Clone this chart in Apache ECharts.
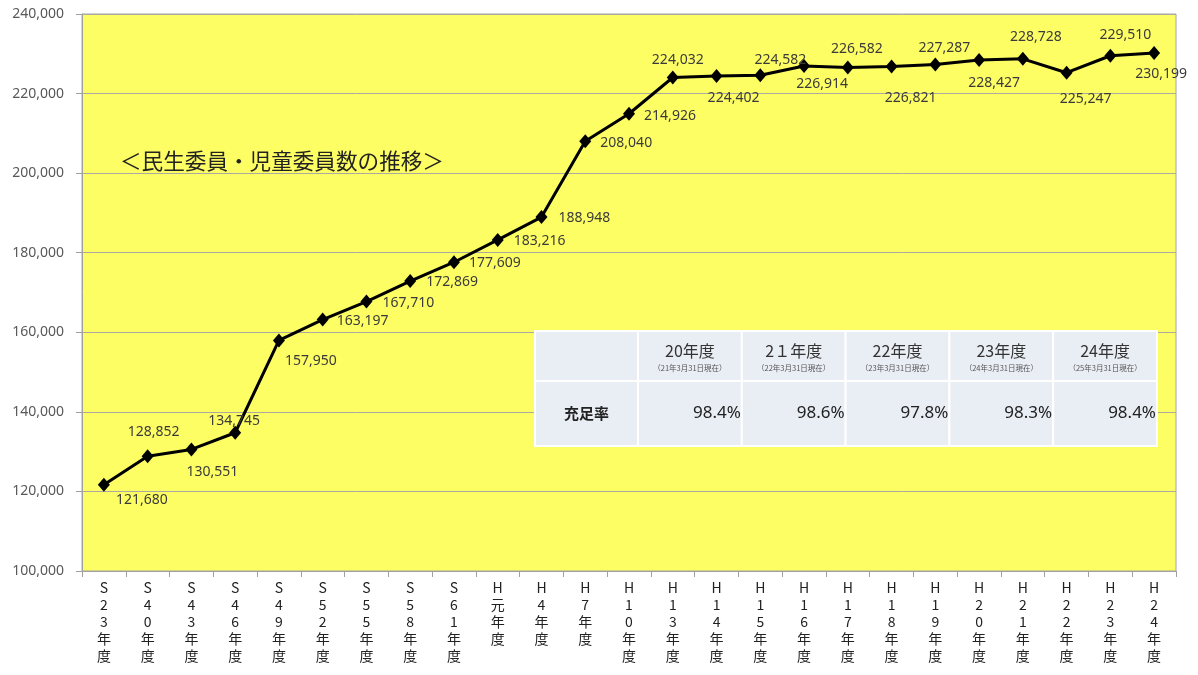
<!DOCTYPE html>
<html><head><meta charset="utf-8">
<script src="https://cdn.jsdelivr.net/npm/echarts@6/dist/echarts.min.js"></script>
<style>html,body{margin:0;padding:0;background:#fff}#c{width:1198px;height:675px}</style>
</head><body><div id="c"></div>
<script>
// ---- data ----
const categories = ['S23年度','S40年度','S43年度','S46年度','S49年度','S52年度','S55年度','S58年度','S61年度','H元年度','H4年度','H7年度','H10年度','H13年度','H14年度','H15年度','H16年度','H17年度','H18年度','H19年度','H20年度','H21年度','H22年度','H23年度','H24年度'];
const members = [121680,128852,130551,134745,157950,163197,167710,172869,177609,183216,188948,208040,214926,224032,224402,224582,226914,226582,226821,227287,228427,228728,225247,229510,230199];
const yTicks = [100000,120000,140000,160000,180000,200000,220000,240000];
const chartTitle = '＜民生委員・児童委員数の推移＞';
const tableYears = ['20年度','2１年度','22年度','23年度','24年度'];
const tableAsOf = ['（21年3月31日現在）','（22年3月31日現在）','（23年3月31日現在）','（24年3月31日現在）','（25年3月31日現在）'];
const tableRowLabel = '充足率';
const fillRates = ['98.4%','98.6%','97.8%','98.3%','98.4%'];
// ---- label placement (style) ----
const labelOffsets = [[38,15],[6,-24],[21,23],[-1,-12],[32,21],[40,1],[42,1],[42,1],[41,1],[42,1],[43,1],[41,2],[41,2],
  [5,-18],[17,22],[20,-15],[18,18],[9,-18],[19,32],[9,-17],[15,23],[13,-22],[19,26],[15,-21],[7,21]];

const chart = echarts.init(document.getElementById('c'));
const fmt = v => Number(v).toLocaleString('en-US');

// table graphic
const tX = 535, tY = 331, c0 = 103, cw = 103.8, h1 = 50, h2 = 65;
const cellFill = '#e9edf4';
const g = [];
g.push({type:'text', left:120, top:150, z:50, style:{text:chartTitle, fill:'#222', font:'21.6px "Noto Sans CJK JP"'}});
function cell(x,y,w,h){ g.push({type:'rect', z:60, shape:{x:x,y:y,width:w,height:h}, style:{fill:cellFill, stroke:'#fff', lineWidth:2}}); }
cell(tX,tY,c0,h1); cell(tX,tY+h1,c0,h2);
g.push({type:'text', z:61, x:tX+c0/2, y:tY+h1+h2/2, style:{text:tableRowLabel, fill:'#222', font:'bold 15px "Noto Sans CJK JP"', align:'center', verticalAlign:'middle'}});
tableYears.forEach((yr,i)=>{
  const x = tX + c0 + i*cw;
  cell(x,tY,cw,h1); cell(x,tY+h1,cw,h2);
  g.push({type:'text', z:61, x:x+cw/2, y:tY+20, style:{text:yr, fill:'#333', font:'16px "Noto Sans CJK JP"', align:'center', verticalAlign:'middle'}});
  g.push({type:'text', z:61, x:x+cw/2, y:tY+37, style:{text:tableAsOf[i], fill:'#555', font:'7.5px "Noto Sans CJK JP"', align:'center', verticalAlign:'middle'}});
  g.push({type:'text', z:61, x:x+cw-1, y:tY+h1+h2/2, style:{text:fillRates[i], fill:'#222', font:'17px "Noto Sans"', align:'right', verticalAlign:'middle'}});
});

chart.setOption({
  animation:false,
  grid:{left:82,right:22,top:14,bottom:104,show:true,backgroundColor:'#fdfd64',borderWidth:1,borderColor:'#a6a6a6'},
  xAxis:{type:'category', data:categories, boundaryGap:true,
    axisLine:{lineStyle:{color:'#a0a0a0'}},
    axisTick:{show:true, length:6, lineStyle:{color:'#a0a0a0'}},
    axisLabel:{interval:0, margin:8, color:'#222', fontSize:14, lineHeight:17, fontFamily:'"Noto Sans CJK JP"',
      formatter: v => Array.from(v).join('\n')}},
  yAxis:{type:'value', min:yTicks[0], max:yTicks[yTicks.length-1], interval:20000,
    axisLine:{show:true, lineStyle:{color:'#a0a0a0'}},
    axisTick:{show:true, length:6, lineStyle:{color:'#a0a0a0'}},
    splitLine:{lineStyle:{color:'#aaaaa0', width:1}},
    axisLabel:{margin:18, color:'#595959', fontSize:14, fontFamily:'"Noto Sans"', formatter: fmt}},
  graphic:g,
  series:[{type:'line', data: members.map((v,i)=>({value:v, label:{offset:labelOffsets[i]}})),
    lineStyle:{color:'#000', width:3}, itemStyle:{color:'#000'},
    symbol:'diamond', symbolSize:[12,14], z:10,
    label:{show:true, position:'inside', color:'#3a3a3a', fontSize:14, fontFamily:'"Noto Sans"', formatter: p => fmt(p.value)}}]
});
</script></body></html>
